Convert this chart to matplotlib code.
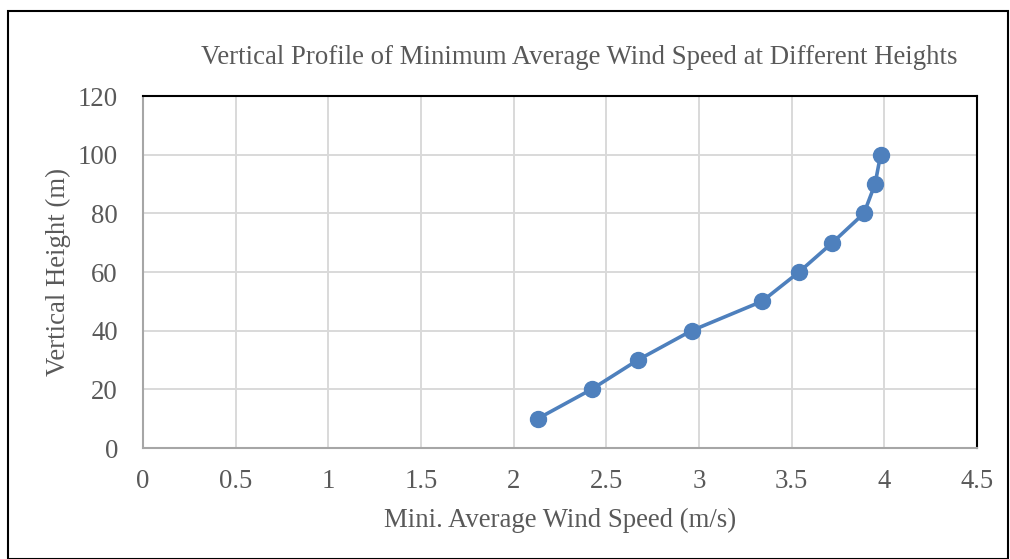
import matplotlib
matplotlib.use("Agg")
import matplotlib.pyplot as plt
from matplotlib.patches import Rectangle

speed = [2.13, 2.42, 2.67, 2.96, 3.34, 3.54, 3.72, 3.89, 3.95, 3.98]
height = [10, 20, 30, 40, 50, 60, 70, 80, 90, 100]
xticks = [0, 0.5, 1, 1.5, 2, 2.5, 3, 3.5, 4, 4.5]
xticklabels = ["0", "0.5", "1", "1.5", "2", "2.5", "3", "3.5", "4", "4.5"]
yticks = [0, 20, 40, 60, 80, 100, 120]

plt.rcParams['font.family'] = ['Liberation Serif', 'DejaVu Serif']
txt = '#595959'

fig = plt.figure(figsize=(10.10, 5.59), dpi=100)
W, H = 1010, 559
ax = fig.add_axes([143/W, 1-448/H, (977-143)/W, (448-96)/H])

ax.plot(speed, height, color='#4E80BD', lw=2.6, marker='o', ms=11.5,
        zorder=3, clip_on=False)

ax.set_xlim(0, 4.5)
ax.set_ylim(0, 120)
ax.set_xticks(xticks)
ax.set_xticklabels(xticklabels)
ax.set_yticks(yticks)
ax.grid(True, color='#D9D9D9', lw=1.4)
ax.set_axisbelow(True)
ax.tick_params(length=0, labelsize=19.3, colors=txt)
ax.tick_params(axis='x', pad=15)
ax.tick_params(axis='y', pad=18)
for s in ['top', 'right']:
    ax.spines[s].set_color('black')
    ax.spines[s].set_linewidth(1.5)
for s in ['left', 'bottom']:
    ax.spines[s].set_color('#A6A6A6')
    ax.spines[s].set_linewidth(1.5)

fig.text(579/W, 1-57/H, 'Vertical Profile of Minimum Average Wind Speed at Different Heights',
         ha='center', va='center', fontsize=19.3, color=txt)
fig.text(560/W, 1-520/H, 'Mini. Average Wind Speed (m/s)', ha='center', va='center',
         fontsize=19.3, color=txt)
fig.text(58/W, 1-272/H, 'Vertical Height (m)', ha='center', va='center',
         fontsize=19.3, color=txt, rotation=90)

fig.patches.append(Rectangle((8/W, 0.5/H), (1008-8)/W, 1-(11+0.5)/H,
                             transform=fig.transFigure, fill=False,
                             edgecolor='black', lw=1.5))

fig.savefig('out.png', dpi=100)
